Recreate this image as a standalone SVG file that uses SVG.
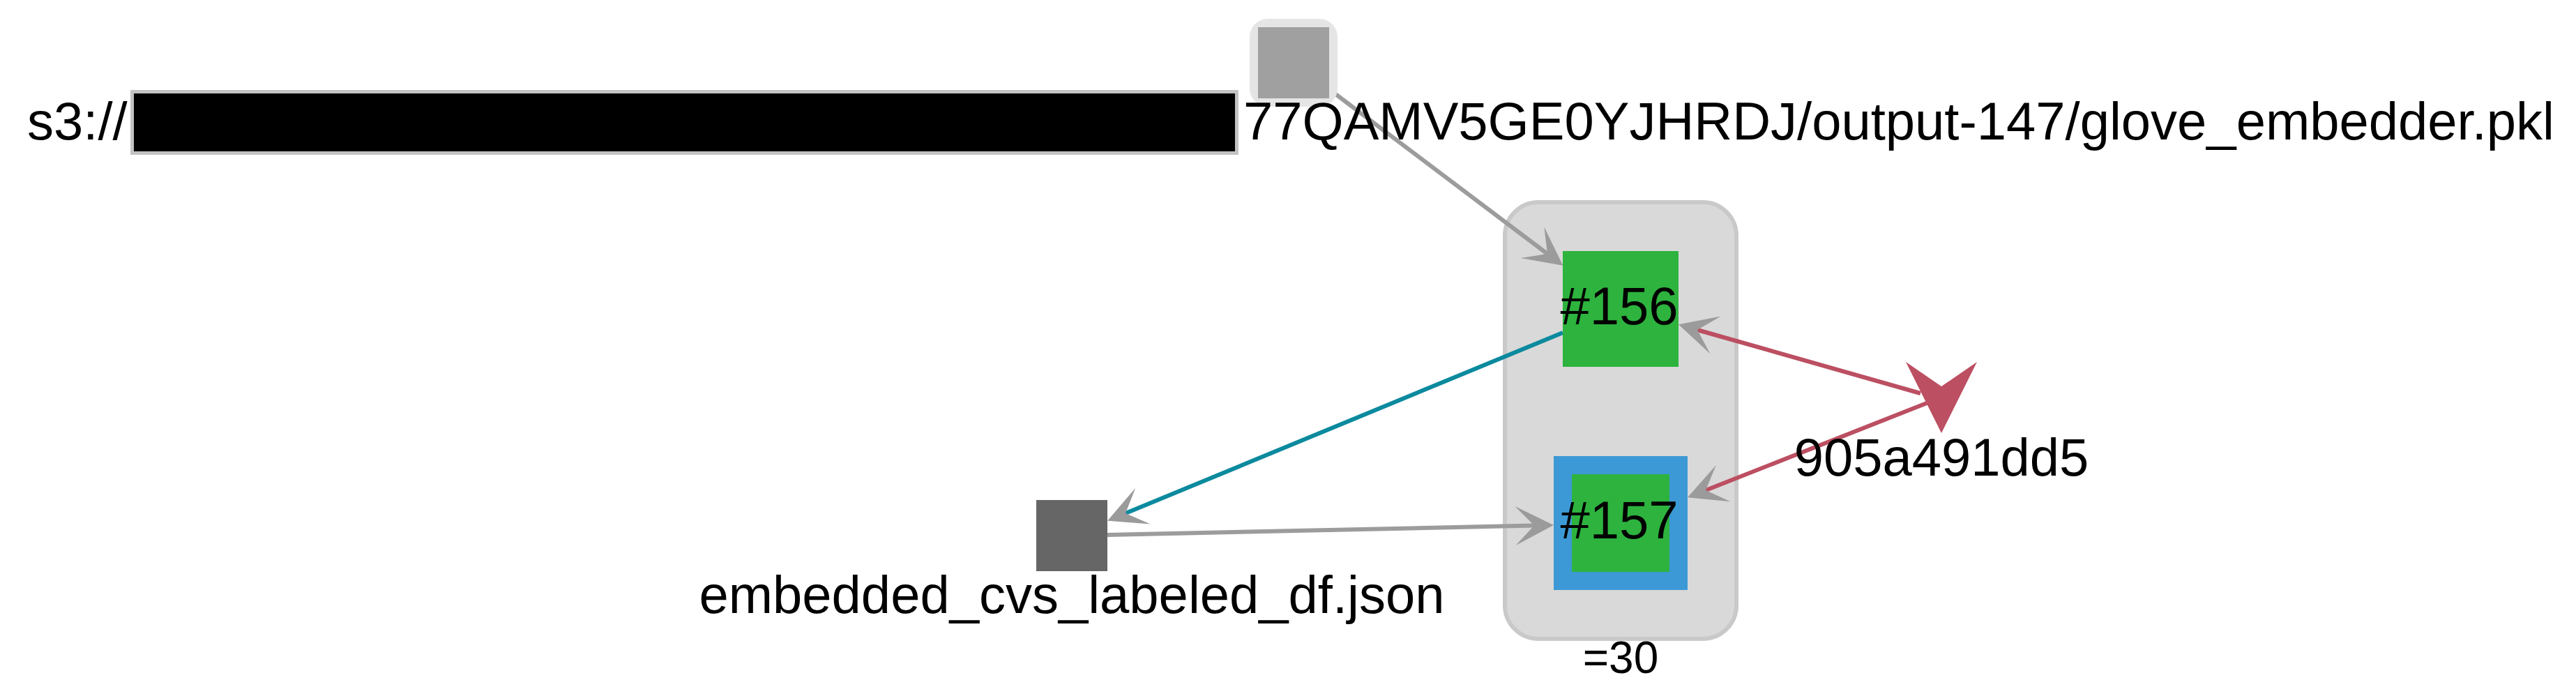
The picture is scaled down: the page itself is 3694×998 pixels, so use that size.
<svg xmlns="http://www.w3.org/2000/svg" width="3694" height="998" viewBox="0 0 3694 998">
<style>
text{font-family:"Liberation Sans",Arial,sans-serif;fill:#000}
.lbl{font-size:76px}
.edge{fill:none;stroke-width:6}
.gray{stroke:#9c9c9c}
.teal{stroke:#0b8a9e}
.red{stroke:#bc4f62}
</style>
<defs>
<marker id="arr" markerUnits="userSpaceOnUse" viewBox="-56 -29 58 58" markerWidth="58" markerHeight="58" refX="-28" refY="0" orient="auto">
<path d="M0,0 L-55,-28 L-28,0 L-55,28 Z" fill="#9b9b9b"/>
</marker>
</defs>
<rect width="3694" height="998" fill="#fff"/>
<g id="cluster">
<rect x="2158" y="290" width="332" height="626" rx="48" fill="#d9d9d9" stroke="#c9c9c9" stroke-width="6"/>
<text x="2324" y="965" font-size="64" text-anchor="middle">=30</text>
</g>
<g id="connectors">
<line class="edge gray" x1="1906" y1="128" x2="2219" y2="364" marker-end="url(#arr)"/>
<line class="edge teal" x1="2241" y1="477" x2="1614" y2="736" marker-end="url(#arr)"/>
<line class="edge gray" x1="1588" y1="767" x2="2200" y2="753.5" marker-end="url(#arr)"/>
<line class="edge red" x1="2754" y1="564" x2="2434" y2="473" marker-end="url(#arr)"/>
<line class="edge red" x1="2763" y1="578" x2="2446" y2="703" marker-end="url(#arr)"/>
</g>
<g id="node-s3">
<rect x="1792" y="27" width="126" height="126" rx="26" fill="#e5e5e5"/>
<rect x="1804" y="39" width="102" height="102" fill="#a0a0a0"/>
<text class="lbl" x="39" y="200">s3://</text>
<rect x="189.5" y="131.5" width="1584" height="88" fill="#000" stroke="#c3c3c3" stroke-width="5"/>
<text class="lbl" x="1783" y="200">77QAMV5GE0YJHRDJ/output-147/glove_embedder.pkl</text>
</g>
<g id="node-156">
<rect x="2241" y="360" width="166" height="166" fill="#2db33e"/>
<text class="lbl" x="2322" y="465" text-anchor="middle">#156</text>
</g>
<g id="node-157">
<rect x="2228" y="654" width="192" height="192" fill="#3c99d5"/>
<rect x="2254" y="680" width="140" height="140" fill="#2db33e"/>
<text class="lbl" x="2322" y="772" text-anchor="middle">#157</text>
</g>
<g id="node-json">
<rect x="1486" y="717" width="102" height="102" fill="#666666"/>
<text class="lbl" x="1537" y="879" text-anchor="middle">embedded_cvs_labeled_df.json</text>
</g>
<g id="node-905a491dd5">
<polygon points="2733,519 2784,554 2835,519 2784,621" fill="#bc4f62"/>
<text class="lbl" x="2784" y="682" text-anchor="middle">905a491dd5</text>
</g>
</svg>
